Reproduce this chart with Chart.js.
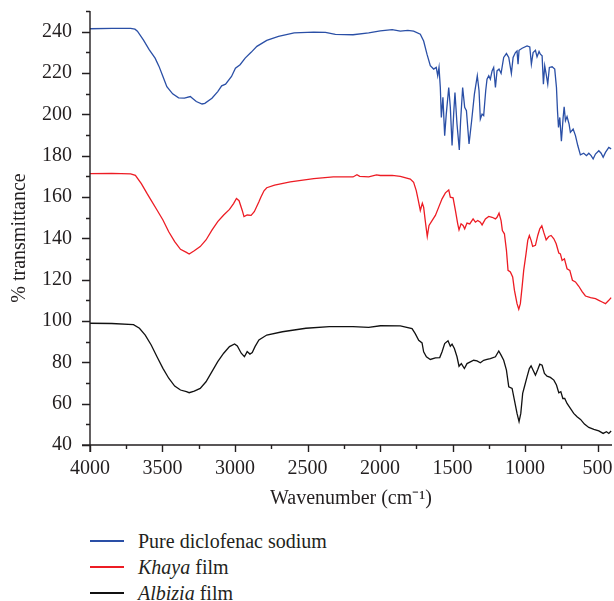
<!DOCTYPE html>
<html>
<head>
<meta charset="utf-8">
<script src="https://cdn.jsdelivr.net/npm/chart.js@4.4.1/dist/chart.umd.min.js"></script>
<style>
  body { margin: 0; background: #fff; }
  #wrap { position: relative; width: 614px; height: 601px; }
  #chart { position: absolute; left: 0; top: 0; }
  #legend { position: absolute; left: 90px; top: 528px; font-family: "Liberation Serif", serif; font-size: 20px; color: #231f20; }
  .item { display: flex; align-items: center; height: 26px; line-height: 26px; }
  .swatch { display: block; width: 34px; height: 1.4px; margin-right: 14px; }
</style>
</head>
<body>
<div id="wrap">
  <canvas id="chart" width="614" height="520"></canvas>
  <div id="legend">
    <div class="item"><span class="swatch" style="background:#2a4fa6"></span><span>Pure diclofenac sodium</span></div>
    <div class="item"><span class="swatch" style="background:#ed1c24"></span><span><i>Khaya</i> film</span></div>
    <div class="item"><span class="swatch" style="background:#111111"></span><span><i>Albizia</i> film</span></div>
  </div>
</div>
<script>
// ticks degli assi
const xTicks = [4000, 3500, 3000, 2500, 2000, 1500, 1000, 500];
const yTicks = [40, 60, 80, 100, 120, 140, 160, 180, 200, 220, 240];

// pure diclofenac sodium
const blueWn = [4000, 3850, 3720, 3690, 3673, 3632, 3592, 3551, 3524, 3497, 3470, 3430, 3389, 3349, 3308, 3294, 3267, 3227, 3208, 3159,
  3119, 3092, 3065, 3024, 2997, 2965, 2930, 2889, 2849, 2781, 2700, 2592, 2457, 2376, 2308, 2186, 2078, 1998, 1916, 1860,
  1808, 1768, 1722, 1699, 1676, 1653, 1630, 1612, 1602, 1593, 1584, 1577, 1566, 1554, 1543, 1526, 1515, 1503, 1492, 1483,
  1469, 1453, 1444, 1430, 1416, 1404, 1386, 1368, 1349, 1329, 1317, 1308, 1296, 1285, 1271, 1262, 1250, 1239, 1227, 1216,
  1204, 1193, 1179, 1165, 1147, 1128, 1112, 1094, 1082, 1066, 1055, 1048, 1041, 1020, 986, 967, 956, 944, 928, 917,
  903, 894, 882, 873, 864, 854, 843, 832, 813, 795, 783, 776, 769, 760, 749, 737, 730, 721, 710, 696,
  687, 668, 652, 636, 618, 595, 576, 560, 544, 530, 514, 491, 475, 461, 445, 422, 406];
const blueT = [241.4, 241.6, 241.6, 241.2, 240.2, 236, 231.3, 227.2, 223.2, 218.3, 213.4, 209.9, 208, 207.8, 208.6, 207.8, 206.2, 205, 205.3, 207.8,
  211, 213.8, 214.6, 218.3, 222.3, 224, 227.2, 230, 232.9, 235.8, 237.7, 239.4, 239.8, 239.7, 238.7, 238.5, 239.4, 240.4, 241, 240.3,
  240.6, 240.3, 238.8, 235.5, 229.1, 223.5, 221.9, 222.7, 218.7, 222.7, 213, 198.5, 208.2, 189.7, 200.1, 213, 203.4, 184.9, 200.1, 210.6,
  195.3, 182.8, 196.9, 213, 203.4, 201.8, 185.7, 196.9, 209.8, 218.7, 211.4, 197.7, 200.1, 199.4, 211.4, 217, 218.7, 217, 221, 222.7,
  213, 221, 221.9, 219.8, 227.5, 229.4, 227.5, 219.8, 227.5, 229.9, 230.7, 224.3, 231, 232, 233.1, 232.6, 224.3, 229.9, 231, 227.8,
  230.4, 229.1, 228.3, 214.6, 223.5, 219.5, 214.6, 222.7, 223, 221.9, 213, 201.8, 193.7, 198.5, 187, 198.5, 203.7, 196.9, 198.9, 195.3,
  191.3, 192.9, 189.7, 184.9, 180.4, 181.2, 180, 181.2, 180, 178.4, 180.8, 182.4, 181.2, 179.2, 181.6, 184, 183.3];

// Khaya film
const redWn = [4000, 3850, 3720, 3687, 3646, 3606, 3578, 3538, 3497, 3457, 3416, 3376, 3335, 3316, 3281, 3240, 3200, 3159, 3119, 3078,
  3038, 3010, 2990, 2972, 2950, 2938, 2916, 2889, 2867, 2835, 2821, 2800, 2781, 2727, 2619, 2457, 2322, 2186, 2159, 2140, 2078,
  2024, 1998, 1916, 1860, 1791, 1768, 1750, 1738, 1722, 1708, 1699, 1688, 1674, 1662, 1641, 1618, 1595, 1572, 1549, 1526,
  1515, 1496, 1480, 1464, 1455, 1441, 1427, 1416, 1400, 1381, 1358, 1342, 1326, 1308, 1296, 1273, 1250, 1227, 1204, 1193,
  1179, 1165, 1156, 1142, 1128, 1117, 1101, 1085, 1073, 1055, 1043, 1032, 1020, 1009, 993, 981, 970, 958, 947, 928,
  912, 898, 884, 871, 854, 836, 820, 801, 785, 767, 756, 744, 728, 710, 691, 673, 652, 629, 606, 583,
  548, 514, 491, 468, 445, 422, 406];
const redT = [171.3, 171.4, 171.2, 170.5, 166.5, 161.6, 158.4, 153.7, 148.9, 143.2, 138.4, 134.7, 133.2, 132.4, 134, 136, 139.2, 144, 148.1, 151.3,
  154, 156.8, 159.3, 158.2, 153.5, 150.5, 151.3, 151.1, 152.9, 157.7, 160, 163, 164.5, 165.7, 167.3, 168.9, 169.7, 169.7, 170.8, 170, 169.7,
  170.7, 170.4, 170.5, 170, 168.7, 167.1, 163.1, 159.1, 153.5, 157, 155.1, 148.6, 140.9, 146.2, 148.6, 151.1, 155.1, 159.1, 162, 163.4,
  159.9, 159.6, 153.5, 147, 144.1, 147, 146.2, 144.6, 147.4, 147, 149.4, 147.8, 148.6, 147.8, 146.5, 149.4, 150.6, 150.2, 149.4, 150.2,
  152.2, 148.6, 143.8, 142.2, 134.2, 124.5, 123.7, 121.3, 114.9, 108.4, 105.7, 108.4, 116.5, 124.5, 132.5, 139, 141.4, 139, 136.1, 136.6,
  141.4, 144.6, 146.1, 143, 139.3, 140.9, 141.4, 139.8, 137.4, 132.9, 132.5, 129.3, 130.1, 125.3, 124.5, 119.7, 118.9, 116.8, 114.2, 112.1,
  111.3, 110.8, 110, 109.2, 108.4, 110, 111.3];

// Albizia film
const blackWn = [4000, 3850, 3700, 3659, 3619, 3578, 3538, 3497, 3457, 3416, 3376, 3335, 3316, 3281, 3240, 3200, 3159, 3119, 3078, 3038,
  3003, 2984, 2957, 2935, 2916, 2897, 2881, 2862, 2835, 2781, 2673, 2511, 2349, 2186, 2078, 1997, 1860, 1779, 1757, 1733,
  1710, 1699, 1680, 1653, 1618, 1588, 1572, 1554, 1531, 1515, 1503, 1487, 1469, 1455, 1439, 1418, 1400, 1377, 1354, 1331,
  1308, 1285, 1262, 1239, 1204, 1181, 1165, 1147, 1128, 1112, 1089, 1073, 1055, 1041, 1029, 1016, 1004, 986, 970, 958,
  944, 928, 912, 898, 882, 866, 848, 825, 801, 783, 767, 753, 739, 726, 710, 687, 664, 641, 617, 590,
  560, 525, 491, 461, 438, 422, 406];
const blackT = [98.9, 98.8, 98.2, 96.5, 93.2, 88.4, 82.7, 77.1, 72.3, 68.5, 66.6, 65.8, 65.3, 66.1, 67.4, 70.6, 75.5, 80.3, 84.4, 87.6,
  88.9, 87.9, 84.4, 82.7, 85.2, 84, 84.7, 87.6, 90.8, 93.2, 94.8, 96.5, 97.3, 97.3, 96.9, 97.7, 97.6, 96.3, 93.9, 90.7,
  89.4, 85.1, 82.7, 81.4, 82.2, 82.3, 85.1, 89.1, 90.4, 87.8, 88.8, 86.7, 82.7, 78.1, 79.4, 77, 79.4, 80.2, 81, 80.7,
  79.8, 81, 81.4, 81.8, 82.7, 85.5, 83.5, 81, 76.2, 68.2, 67.4, 61.7, 55.3, 51.3, 55.3, 65, 68.2, 73, 77, 78.3,
  76.2, 73.8, 76.5, 79.1, 78.6, 74.6, 73.3, 72.7, 71.4, 69, 65.3, 65.8, 62.5, 62.5, 60.1, 57.7, 55.3, 53.7, 52.4, 50.1,
  48.5, 47.6, 46.8, 45.6, 46.4, 45.6, 46.8];

const textColor = '#231f20';
const fontFam = '"Liberation Serif", "Times New Roman", serif';

function toPoints(wn, t) {
  return wn.map((w, i) => ({ x: w, y: t[i] }));
}

// disegno assi e tacche (maggiori e minori)
const axisTicks = {
  id: 'axisTicks',
  afterDraw(chart) {
    const { ctx, chartArea: a, scales: { x, y } } = chart;
    ctx.save();
    ctx.strokeStyle = textColor;
    ctx.lineWidth = 1.4;
    ctx.beginPath();
    ctx.moveTo(a.left, a.top);
    ctx.lineTo(a.left, a.bottom + 7);
    ctx.moveTo(a.left - 8, a.bottom);
    ctx.lineTo(a.right, a.bottom);
    for (let v = 40; v <= 250; v += 10) {
      const len = v % 20 === 0 ? 8 : 4;
      const py = Math.round(y.getPixelForValue(v)) + 0.5;
      ctx.moveTo(a.left - len, py);
      ctx.lineTo(a.left, py);
    }
    for (let v = 500; v <= 4000; v += 250) {
      const len = v % 500 === 0 ? 7 : 4;
      const px = Math.round(x.getPixelForValue(v)) + 0.5;
      ctx.moveTo(px, a.bottom);
      ctx.lineTo(px, a.bottom + len);
    }
    ctx.stroke();
    ctx.restore();
  }
};

new Chart(document.getElementById('chart'), {
  type: 'line',
  data: {
    datasets: [
      { label: 'Pure diclofenac sodium', data: toPoints(blueWn, blueT), borderColor: '#2a4fa6' },
      { label: 'Khaya film', data: toPoints(redWn, redT), borderColor: '#ed1c24' },
      { label: 'Albizia film', data: toPoints(blackWn, blackT), borderColor: '#111111' }
    ]
  },
  options: {
    responsive: false,
    animation: false,
    elements: {
      line: { borderWidth: 1.3, tension: 0 },
      point: { radius: 0 }
    },
    layout: { padding: { top: 11, right: 2, left: 0, bottom: 0 } },
    plugins: {
      legend: { display: false },
      tooltip: { enabled: false }
    },
    scales: {
      x: {
        type: 'linear',
        reverse: true,
        min: 400,
        max: 4000,
        afterBuildTicks: (s) => { s.ticks = xTicks.map(v => ({ value: v })); },
        afterFit: (s) => { s.height = 75; s.paddingLeft = 0; s.paddingRight = 0; },
        grid: { display: false, drawTicks: false },
        border: { display: false },
        ticks: {
          padding: 12,
          color: textColor,
          autoSkip: false,
          maxRotation: 0,
          font: { family: fontFam, size: 20 },
          callback: (v) => String(v)
        },
        title: {
          display: true,
          text: 'Wavenumber (cm\u207B\u00B9)',
          color: textColor,
          font: { family: fontFam, size: 20 },
          padding: { top: 0, bottom: 9 }
        }
      },
      y: {
        min: 40,
        max: 250,
        afterBuildTicks: (s) => { s.ticks = yTicks.map(v => ({ value: v })); },
        afterFit: (s) => { s.width = 90; s.paddingTop = 0; s.paddingBottom = 0; },
        grid: { display: false, drawTicks: false },
        border: { display: false },
        ticks: {
          padding: 18,
          color: textColor,
          font: { family: fontFam, size: 20 },
          callback: (v) => String(v)
        },
        title: {
          display: true,
          text: '% transmittance    ',
          color: textColor,
          font: { family: fontFam, size: 20 },
          padding: { top: 8, bottom: 0 }
        }
      }
    }
  },
  plugins: [axisTicks]
});
</script>
</body>
</html>
